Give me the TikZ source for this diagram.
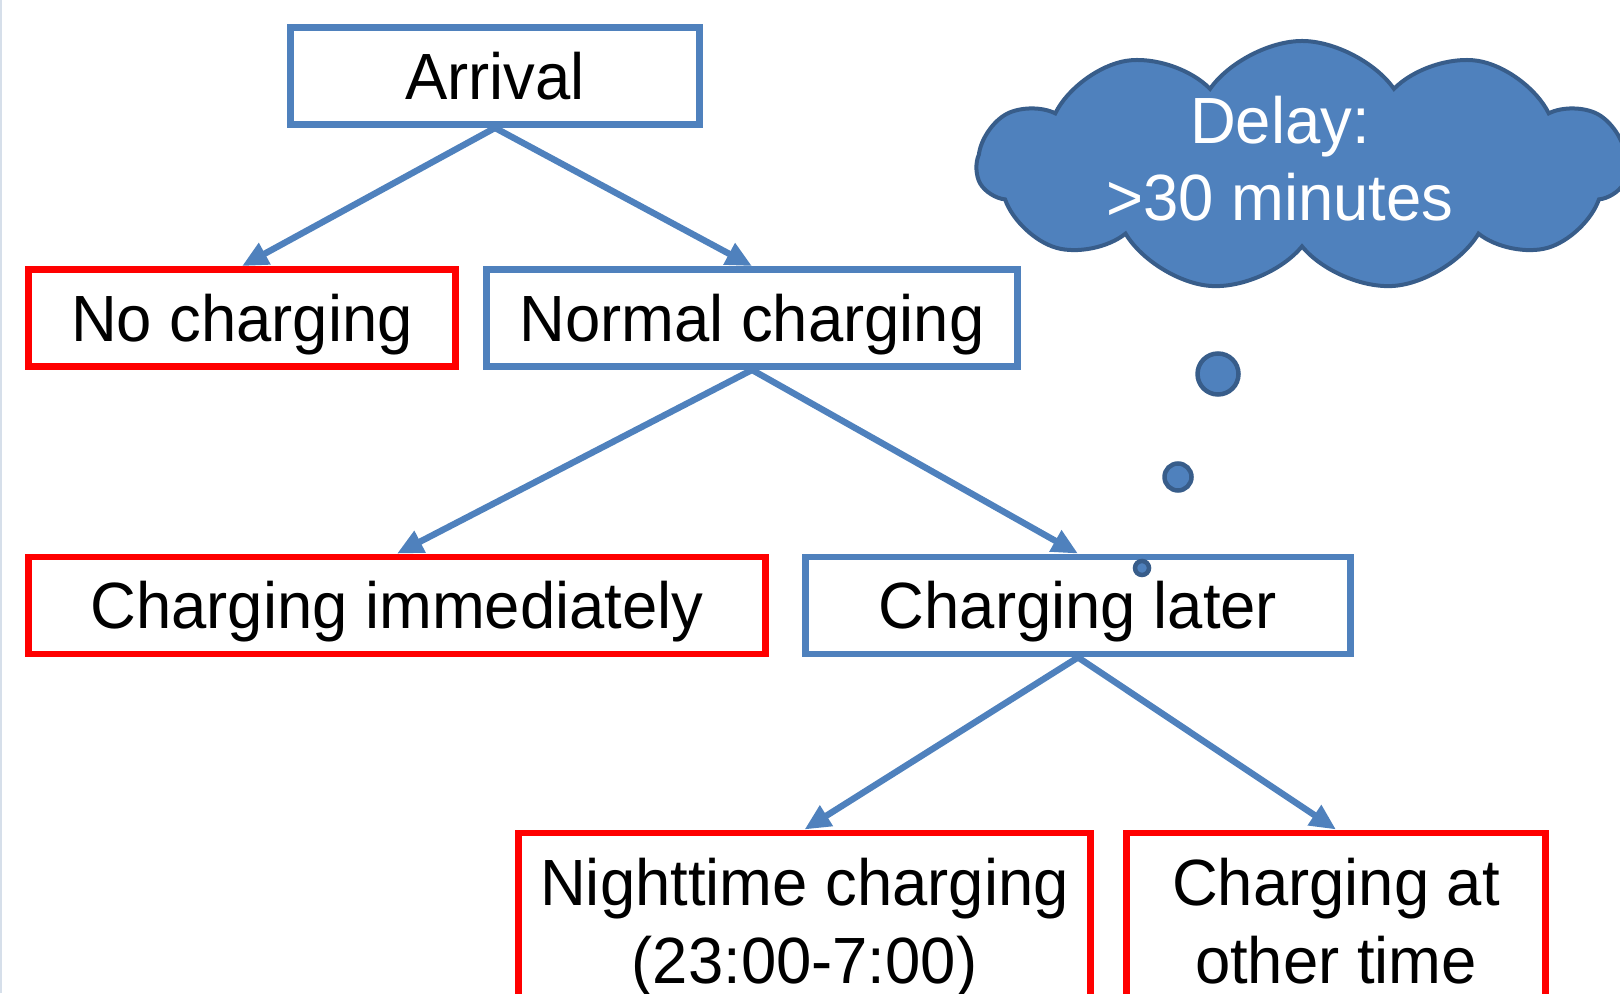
\documentclass[tikz,border=0pt]{standalone}
\usepackage{fontspec}
\setmainfont{Liberation Sans}[FakeStretch=0.97]
\usetikzlibrary{arrows.meta,shapes.symbols}
\definecolor{boxblue}{HTML}{4F81BD}
\definecolor{boxred}{HTML}{FF0000}
\definecolor{cloudedge}{HTML}{385D8A}
\definecolor{pagerule}{HTML}{D6DFEA}
\begin{document}
\begin{tikzpicture}[font=\fontsize{18.6}{22}\selectfont,
  basebox/.style={draw,line width=0.068cm,inner sep=0pt},
  oneline/.style={minimum height=0.97cm,text height=0.47cm,text depth=0cm},
  bluebox/.style={basebox,draw=boxblue,oneline},
  redbox/.style={basebox,draw=boxred,oneline},
  leafbox/.style={basebox,draw=boxred,align=center,anchor=north,minimum height=1.92cm},
  flowarrow/.style={draw=boxblue,line width=0.064cm,-{Triangle[length=0.26cm,width=0.23cm]}},
  thought/.style={fill=boxblue,draw=cloudedge,line width=0.045cm}]
  \useasboundingbox (0,0) rectangle (16.2,9.93);
  \draw[pagerule,line width=0.02cm] (0.01,0) -- (0.01,9.93);
  % decision tree
  \node[bluebox,minimum width=4.09cm] (arrival) at (4.95,9.17) {Arrival};
  \node[redbox,minimum width=4.27cm] (nocharge) at (2.42,6.75) {No charging};
  \node[bluebox,minimum width=5.31cm] (normal) at (7.52,6.75) {Normal charging};
  \node[redbox,minimum width=7.375cm] (now) at (3.97,3.875) {Charging immediately};
  \node[bluebox,minimum width=5.45cm] (later) at (10.78,3.875) {Charging later};
  \node[leafbox,minimum width=5.72cm] (night) at (8.045,1.635) {Nighttime charging\strut\\(23:00-7:00)\strut};
  \node[leafbox,minimum width=4.19cm] (other) at (13.36,1.635) {Charging at\strut\\other time\strut};
  \draw[flowarrow] (arrival.south) -- (nocharge.north);
  \draw[flowarrow] (arrival.south) -- (normal.north);
  \draw[flowarrow] (normal.south) -- (now.north);
  \draw[flowarrow] (normal.south) -- (later.north);
  \draw[flowarrow] (later.south) -- (night.north);
  \draw[flowarrow] (later.south) -- (other.north);
  % thought cloud
  \node[cloud,cloud puffs=11,cloud puff arc=110,aspect=2.7,fill=boxblue,draw=cloudedge,line width=0.04cm,
    minimum width=6.5cm,minimum height=2.5cm,inner sep=0pt] (delay) at (13.02,8.27) {};
  \node[text=white,align=center,inner sep=0pt] (delaytext) at (12.8,8.265) {Delay:\strut\\>30 minutes\strut};
  \filldraw[thought] (12.18,6.19) circle [radius=0.205];
  \filldraw[thought] (11.78,5.16) circle [radius=0.135];
  \filldraw[thought] (11.42,4.25) circle [radius=0.07];
\end{tikzpicture}
\end{document}
